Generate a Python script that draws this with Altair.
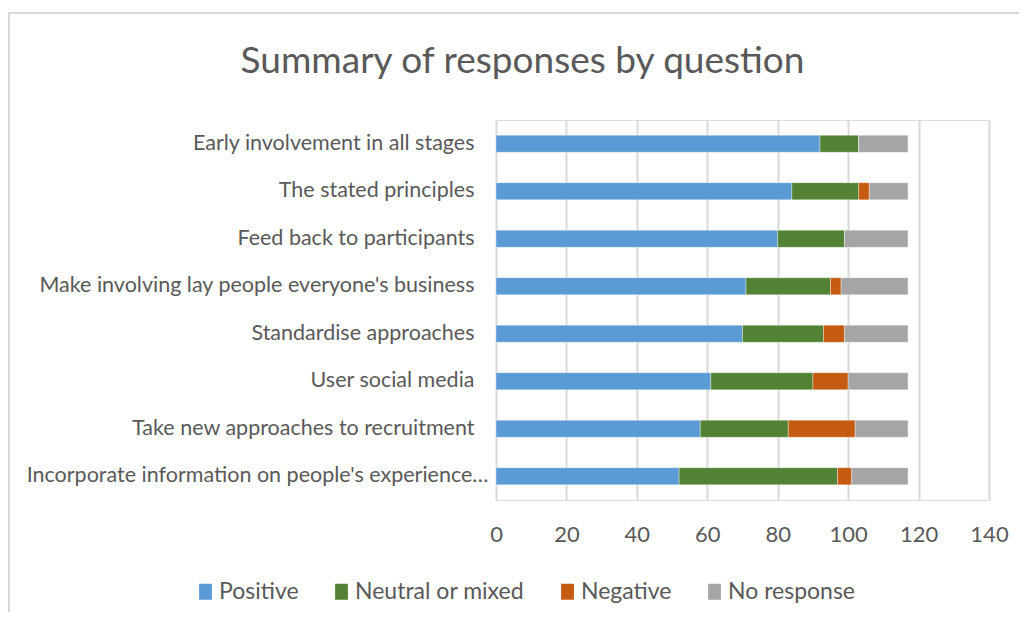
import altair as alt
import pandas as pd

questions = [
    "Early involvement in all stages",
    "The stated principles\u00a0",
    "Feed back to participants",
    "Make involving lay people everyone's business",
    "Standardise approaches\u00a0",
    "User social media",
    "Take new approaches to recruitment",
    "Incorporate information on people's experience\u2026",
]
positive = [92, 84, 80, 71, 70, 61, 58, 52]
neutral = [11, 19, 19, 24, 23, 29, 25, 45]
negative = [0, 3, 0, 3, 6, 10, 19, 4]
no_response = [14, 11, 18, 19, 18, 17, 15, 16]
categories = ["Positive", "Neutral or mixed", "Negative", "No response"]
colors = ["#5B9BD5", "#548235", "#C55A11", "#A5A5A5"]
x_ticks = [0, 20, 40, 60, 80, 100, 120, 140]

series = [positive, neutral, negative, no_response]
rows = []
for ci, (cat, vals) in enumerate(zip(categories, series)):
    for q, v in zip(questions, vals):
        rows.append({"question": q, "category": cat, "value": v, "order": ci})
df = pd.DataFrame(rows)

FONT = "Lato"
TXT = "#595959"

bars = alt.Chart(df).mark_bar(stroke="white", strokeWidth=0.6, strokeOpacity=0.6).encode(
    x=alt.X(
        "value:Q",
        stack="zero",
        scale=alt.Scale(domain=[0, 140], nice=False),
        axis=alt.Axis(
            values=x_ticks, grid=True, gridColor="#D9D9D9", gridWidth=2,
            domain=False, ticks=False, labelFontSize=22, labelColor=TXT,
            labelPadding=24, title=None, labelFont=FONT, labelFlush=False,
        ),
    ),
    y=alt.Y(
        "question:N",
        sort=questions,
        scale=alt.Scale(paddingInner=0.64),
        axis=alt.Axis(
            title=None, domain=False, ticks=False, labelFontSize=21.5,
            labelColor=TXT, labelLimit=1000, labelFont=FONT,
            labelPadding={
                "condition": {"test": "indexof(datum.label, 'Incorporate') == 0", "value": 8},
                "value": 22,
            },
        ),
    ),
    color=alt.Color(
        "category:N",
        sort=categories,
        scale=alt.Scale(domain=categories, range=colors),
        legend=alt.Legend(
            title=None, orient="none", direction="horizontal",
            legendX=-302, legendY=460, labelFontSize=23, labelColor=TXT,
            labelFont=FONT, symbolType="M-0.8,-1H0.8V1H-0.8Z",
            symbolSize=256, symbolStrokeWidth=0, columnPadding=31,
            labelOffset=2, padding=0, labelLimit=1000,
        ),
    ),
    order=alt.Order("order:Q"),
)

border = alt.Chart(pd.DataFrame({"k": [0]})).mark_rect(
    fillOpacity=0, stroke="#D9D9D9", strokeWidth=2
).encode(
    x=alt.value(-487), x2=alt.value(600), y=alt.value(-107), y2=alt.value(600)
)

chart = alt.layer(border, bars).properties(
    width=493,
    height=380,
    autosize="none",
    padding={"left": 488, "top": 112, "right": 30, "bottom": 112},
    title=alt.TitleParams(
        "Summary of responses by question", fontSize=37, font=FONT,
        color=TXT, fontWeight="normal", anchor="middle", dx=-220, dy=79,
        offset=10,
    ),
).configure_view(stroke=None).configure(background="white")

chart.save("out.html", embed_options={"renderer": "svg", "actions": False})
